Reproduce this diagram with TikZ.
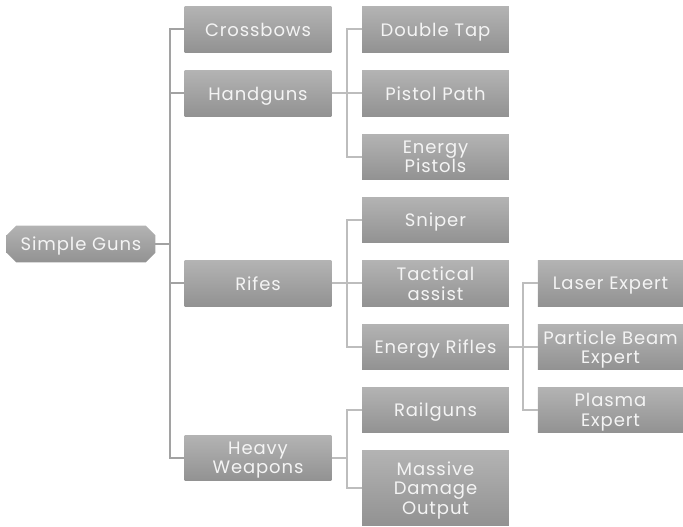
\documentclass[tikz,border=0pt]{standalone}
\usepackage{fontspec}
\setmainfont{Poppins}[LetterSpace=5]
\usetikzlibrary{backgrounds}

\definecolor{boxtop}{HTML}{B3B3B3}
\definecolor{boxbot}{HTML}{929292}
\definecolor{trunk}{HTML}{A2A2A2}
\definecolor{twig}{HTML}{BDBDBD}
\definecolor{perktext}{HTML}{F4F4F4}

\tikzset{
  perk/.style={rectangle, top color=boxtop, bottom color=boxbot, text=perktext,
    minimum width=110pt, minimum height=34pt, inner sep=1pt, align=center,
    text depth=0pt, font=\fontsize{13.5}{14.5}\selectfont},
  rootperk/.style={rectangle, text=perktext, minimum width=111pt,
    minimum height=27pt, inner sep=1pt, text depth=0pt,
    font=\fontsize{13.5}{14.5}\selectfont},
  trunkline/.style={draw=trunk, line width=1.5pt},
  twigline/.style={draw=twig, line width=1.5pt}
}

\begin{document}
\begin{tikzpicture}[x=0.75pt,y=-0.75pt]
\useasboundingbox (0,0) rectangle (683,527);

\node[rootperk] (simple) at (81,244) {Simple Guns};
\begin{pgfonlayer}{background}
\shade[top color=boxtop, bottom color=boxbot]
  ([xshift=7pt]simple.north west) -- ([xshift=-7pt]simple.north east)
  -- ([yshift=-7pt]simple.north east) -- ([yshift=7pt]simple.south east)
  -- ([xshift=-7pt]simple.south east) -- ([xshift=7pt]simple.south west)
  -- ([yshift=7pt]simple.south west) -- ([yshift=-7pt]simple.north west) -- cycle;
\end{pgfonlayer}

% first ring
\node[perk] (cross) at (258,29.5) {Crossbows};
\node[perk] (hand) at (258,93.5) {Handguns};
\node[perk] (rifes) at (258,283.5) {Rifes};
\node[perk] (heavy) at (258,458) {Heavy\\Weapons};

% second ring
\node[perk] (dtap) at (435.5,29.5) {Double Tap};
\node[perk] (ppath) at (435.5,93.5) {Pistol Path};
\node[perk] (epist) at (435.5,157) {Energy\\Pistols};
\node[perk] (sniper) at (435.5,220) {Sniper};
\node[perk] (tact) at (435.5,283.5) {Tactical\\assist};
\node[perk] (erifle) at (435.5,347) {Energy Rifles};
\node[perk] (rail) at (435.5,410) {Railguns};
\node[perk, minimum height=56pt] (massive) at (435.5,488) {Massive\\Damage\\Output};

% third ring
\node[perk, minimum width=109pt] (laser) at (610.5,283.5) {Laser Expert};
\node[perk, minimum width=109pt] (beam) at (610.5,347) {Particle Beam\\Expert};
\node[perk, minimum width=109pt] (plasma) at (610.5,410) {Plasma\\Expert};

\coordinate (j1) at (170,244);
\coordinate (j2) at (347,93.5);
\coordinate (j3) at (347,283.5);
\coordinate (j4) at (347,458);
\coordinate (j5) at (523,347);

\draw[trunkline] (simple) -- (j1);
\foreach \n in {cross,hand,rifes,heavy}
  \draw[trunkline] (j1) |- (\n);

\draw[twigline] (hand) -- (j2);
\foreach \n in {dtap,ppath,epist}
  \draw[twigline] (j2) |- (\n);

\draw[twigline] (rifes) -- (j3);
\foreach \n in {sniper,tact,erifle}
  \draw[twigline] (j3) |- (\n);

\draw[twigline] (heavy) -- (j4);
\foreach \n in {rail,massive}
  \draw[twigline] (j4) |- (\n);

\draw[twigline] (erifle) -- (j5);
\foreach \n in {laser,beam,plasma}
  \draw[twigline] (j5) |- (\n);
\end{tikzpicture}
\end{document}
